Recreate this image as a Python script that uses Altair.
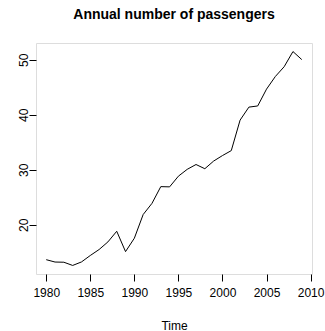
import altair as alt
import pandas as pd

# Annual air passengers (millions), 1980-2009
years = list(range(1980, 2010))
passengers = [
    13.6488, 13.2195, 13.1879, 12.6015, 13.2368, 14.4121, 15.4973, 16.8802,
    18.8163, 15.1143, 17.5534, 21.8601, 23.8866, 26.9293, 26.8885, 28.8314,
    30.0751, 30.9535, 30.1857, 31.5797, 32.5776, 33.4774, 39.0216, 41.3864,
    41.5966, 44.6574, 46.9522, 48.7289, 51.4880, 50.0270,
]
x_ticks = [1980, 1985, 1990, 1995, 2000, 2005, 2010]
y_ticks = [20, 30, 40, 50]

df = pd.DataFrame({"Time": years, "Passengers": passengers})

# 4% padding around the data range on both axes
xr = (min(years), max(years))
yr = (min(passengers), max(passengers))
xpad = 0.04 * (xr[1] - xr[0])
ypad = 0.04 * (yr[1] - yr[0])

FONT = "Liberation Sans"

chart = (
    alt.Chart(df)
    .mark_line(color="black", strokeWidth=1)
    .encode(
        x=alt.X(
            "Time:Q",
            scale=alt.Scale(domain=[xr[0] - xpad, xr[1] + xpad], nice=False, zero=False),
            axis=alt.Axis(
                values=x_ticks, format="d", domain=False, grid=False,
                tickSize=7, tickColor="black", tickWidth=1,
                labelFont=FONT, labelFontSize=12, labelColor="black",
                labelPadding=6, labelBaseline="top",
                title="Time", titleFont=FONT, titleFontSize=12,
                titleFontWeight="normal", titleColor="black",
                titleBaseline="alphabetic", titleX=138, titleY=55,
            ),
        ),
        y=alt.Y(
            "Passengers:Q",
            scale=alt.Scale(domain=[yr[0] - ypad, yr[1] + ypad], nice=False, zero=False),
            axis=alt.Axis(
                values=y_ticks, format="d", domain=False, grid=False,
                tickSize=7, tickColor="black", tickWidth=1,
                labelFont=FONT, labelFontSize=12, labelColor="black",
                labelAngle=270, labelAlign="center", labelBaseline="alphabetic",
                labelPadding=2, title=None,
            ),
        ),
    )
    .properties(
        width=276,
        height=231,
        title=alt.TitleParams(
            "Annual number of passengers",
            font=FONT, fontSize=14, fontWeight="bold", color="black",
            anchor="middle", baseline="alphabetic", offset=10,
        ),
        padding={"left": 36, "top": 43, "right": 13, "bottom": 57},
        autosize="none",
    )
    .configure_view(stroke="black", strokeWidth=1)
    .configure(background="white")
)

chart.save("out.html", embed_options={"renderer": "svg", "actions": False})
